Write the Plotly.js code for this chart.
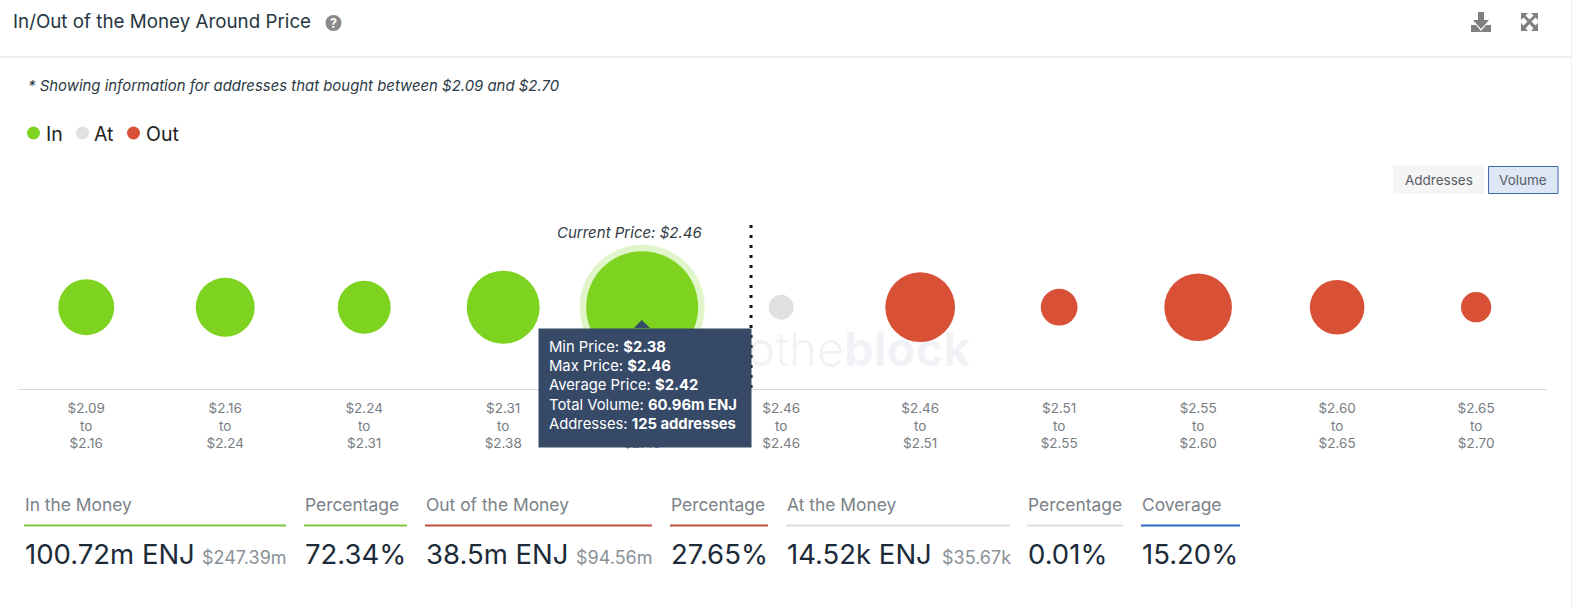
<!DOCTYPE html>
<html><head><meta charset="utf-8">
<script src="https://cdn.plot.ly/plotly-3.0.1.min.js"></script>
<style>html,body{margin:0;padding:0;background:#fff;overflow:hidden}</style>
</head><body><div id="chart" style="width:1572px;height:607px"></div>
<script>
// ---- data ----
const minPrice = ['$2.09','$2.16','$2.24','$2.31','$2.38','$2.46','$2.46','$2.51','$2.55','$2.60','$2.65'];
const maxPrice = ['$2.16','$2.24','$2.31','$2.38','$2.46','$2.46','$2.51','$2.55','$2.60','$2.65','$2.70'];
const volumeIn  = [7.60, 8.89, 6.44, 16.84, 60.96];   // million ENJ
const volumeAt  = [0.01452];
const volumeOut = [14.7, 2.15, 13.4, 7.05, 1.2];
const legendNames = ['In','At','Out'];
const kpiLabels = ['In the Money','Percentage','Out of the Money','Percentage','At the Money','Percentage','Coverage'];
const kpiValues = ['100.72m ENJ','72.34%','38.5m ENJ','27.65%','14.52k ENJ','0.01%','15.20%'];
const kpiUsd    = ['$247.39m','','$94.56m','','$35.67k','',''];
const tooltipRows = [['Min Price:','$2.38'],['Max Price:','$2.46'],['Average Price:','$2.42'],['Total Volume:','60.96m ENJ'],['Addresses:','125 addresses']];

// ---- styling ----
const W=1572,H=607,FONT='Inter, "Noto Sans", sans-serif';
const GREEN='#7ed321',GREY='#e1e1e1',RED='#d85136';
const px=x=>x/W, py=y=>1-y/H;
const cats=minPrice.map((m,i)=>m+'<br>to<br>'+maxPrice[i]);
const dia=v=>Math.max(25,112*Math.cbrt(v/60.96));
const Y=0.435;
const kpiX=[24,304,425,670,786,1027,1141];
const kpiR=[286,407,652,768,1010,1123,1240];
const kpiC=['#82c341','#82c341','#c0533f','#c0533f','#dddddd','#dddddd','#2c6cc4'];

function scatter(name,xs,vals,color){return {type:'scatter',mode:'markers',name,x:xs,y:xs.map(()=>Y),hoverinfo:'skip',showlegend:false,
  marker:{size:vals.map(dia),color,opacity:1,sizemode:'diameter',line:{width:0}}};}
const traces=[
 {type:'scatter',mode:'markers',x:[cats[4]],y:[Y],showlegend:false,hoverinfo:'skip',marker:{size:125,color:'#e0f6ca',opacity:1,line:{width:0}}},
 scatter('In',cats.slice(0,5),volumeIn,GREEN),
 scatter('At',cats.slice(5,6),volumeAt,GREY),
 scatter('Out',cats.slice(6),volumeOut,RED)
];

const ann=[];
function T(text,x,y,size,color,opt){ann.push(Object.assign({xref:'paper',yref:'paper',x:px(x),y:py(y),text,showarrow:false,xanchor:'left',yanchor:'middle',borderpad:0,
  font:{family:FONT,size,color}},opt||{}));}
const shapes=[];
function S(path,fill,opt){shapes.push(Object.assign({type:'path',xref:'paper',yref:'paper',path:path.replace(/(-?[\d.]+),(-?[\d.]+)/g,(m,a,b)=>px(+a)+','+py(+b)),fillcolor:fill,line:{width:0},layer:'above'},opt||{}));}
function R(x0,y0,x1,y1,fill,line){shapes.push({type:'rect',xref:'paper',yref:'paper',x0:px(x0),x1:px(x1),y0:py(y0),y1:py(y1),fillcolor:fill,line:line||{width:0},layer:'below'});}
function C(cx,cy,d,fill){shapes.push({type:'circle',xref:'paper',yref:'paper',x0:px(cx-d/2),x1:px(cx+d/2),y0:py(cy+d/2),y1:py(cy-d/2),fillcolor:fill,line:{width:0},layer:'below'});}

// header
T('In/Out of the Money Around Price',11.5,21.5,18.8,'#263642');
C(333.5,23,16,'#8a8a8a');
T('<b>?</b>',333.5,23,12.5,'#ffffff',{xanchor:'center'});
R(0,56,W,57.5,'#ececec');
R(1571,0,W,H,'#eeeeee');
S('M1478,12 L1484,12 L1484,20 L1489,20 L1481,29 L1473,20 L1478,20 Z M1471,25 L1476,25 L1481,31 L1486,25 L1491,25 L1491,32 L1471,32 Z','#808080');
S('M1521,13 L1528,13 L1525.5,15.5 L1529.5,19.5 L1533.5,15.5 L1531,13 L1538,13 L1538,20 L1535.5,17.5 L1531.5,21.5 L1535.5,25.5 L1538,23 L1538,31 L1531,31 L1533.5,28.5 L1529.5,24 L1525.5,28.5 L1528,31 L1521,31 L1521,23 L1523.5,25.5 L1527.5,21.5 L1523.5,17.5 L1521,20 Z','#808080');
T('<i>* Showing information for addresses that bought between $2.09 and $2.70</i>',26.5,85.5,14.92,'#2b3a45');

// legend
const legendDots=[33.5,82.5,133.5], legendText=[44.5,92.5,144.5], legendCol=[GREEN,GREY,RED];
legendNames.forEach((n,i)=>{C(legendDots[i],133,13,legendCol[i]);T(n,legendText[i],133.5,19.5,'#222222');});

// buttons
R(1393,165,1484,194,'#f5f5f5');
T('Addresses',1438.5,180,13.5,'#555c66',{xanchor:'center'});
R(1488.5,166.5,1558,193.5,'#dde7f6',{color:'#3f6aa8',width:1});
T('Volume',1523,180,13.5,'#555c66',{xanchor:'center'});

// current price
T('<i>Current Price: $2.46</i>',629.5,232.5,15,'#333c45',{xanchor:'center'});
shapes.push({type:'line',xref:'x',yref:'paper',x0:4.783,x1:4.783,y0:py(225),y1:py(389),line:{color:'#111',width:3,dash:'3px,7px'},layer:'above'});

// watermark
T('into<span style="font-weight:300">the</span><b>block</b>',972,348,47,'rgba(40,60,120,0.075)',{xanchor:'right'});

// tooltip: box, caret, then its text
S('M641.7,320 L634,328 L650,328 Z','#364a67');
ann.push({xref:'paper',yref:'paper',x:px(537.7),y:py(327.5),xanchor:'left',yanchor:'top',showarrow:false,
  bgcolor:'#364a67',borderpad:0,width:212.3,height:117.5,text:' ',font:{family:FONT,size:14.8,color:'#ffffff'}});
T(tooltipRows.map(r=>r[0]+' <b>'+r[1]+'</b>').join('<br>'),547.5,385.5,14.8,'#ffffff',{align:'left'});

// KPI row
kpiLabels.forEach((l,i)=>{
  T(l,kpiX[i],504,17.4,'#7b8288');
  R(kpiX[i],524.5,kpiR[i],526.5,kpiC[i]);
  T(kpiValues[i],kpiX[i],554,27.5,'#1c2b39');
  if(kpiUsd[i]) T(kpiUsd[i],kpiR[i]+1.5,557,18,'#8a9197',{xanchor:'right'});
});

const layout={width:W,height:H,margin:{l:0,r:0,t:0,b:0,pad:0},paper_bgcolor:'#fff',plot_bgcolor:'rgba(0,0,0,0)',
 font:{family:FONT},hovermode:false,dragmode:false,showlegend:false,
 xaxis:{domain:[px(18),px(1547)],type:'category',categoryorder:'array',categoryarray:cats,range:[-0.491,10.51],
   tickvals:cats,ticktext:cats,tickangle:0,ticks:'outside',ticklen:7,tickcolor:'rgba(0,0,0,0)',showgrid:false,zeroline:false,
   showline:true,linecolor:'#d3dae6',linewidth:1,tickfont:{family:FONT,size:13.5,color:'#777c82'},fixedrange:true},
 yaxis:{domain:[py(389),py(201)],range:[0,1],visible:false,fixedrange:true},
 shapes,annotations:ann};
Plotly.newPlot('chart',traces,layout,{displayModeBar:false,staticPlot:true});
</script></body></html>
